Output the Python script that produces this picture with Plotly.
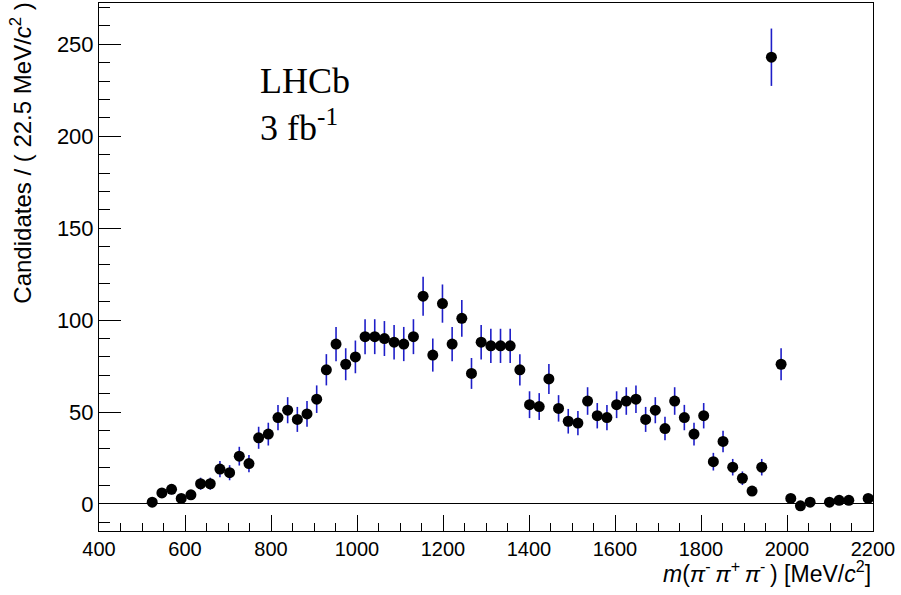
import plotly.graph_objects as go

mass = [523.75, 546.25, 568.75, 591.25, 613.75, 636.25, 658.75, 681.25, 703.75, 726.25,
        748.75, 771.25, 793.75, 816.25, 838.75, 861.25, 883.75, 906.25, 928.75, 951.25,
        973.75, 996.25, 1018.75, 1041.25, 1063.75, 1086.25, 1108.75, 1131.25, 1153.75, 1176.25,
        1198.75, 1221.25, 1243.75, 1266.25, 1288.75, 1311.25, 1333.75, 1356.25, 1378.75, 1401.25,
        1423.75, 1446.25, 1468.75, 1491.25, 1513.75, 1536.25, 1558.75, 1581.25, 1603.75, 1626.25,
        1648.75, 1671.25, 1693.75, 1716.25, 1738.75, 1761.25, 1783.75, 1806.25, 1828.75, 1851.25,
        1873.75, 1896.25, 1918.75, 1941.25, 1963.75, 1986.25, 2008.75, 2031.25, 2053.75, 2098.75,
        2121.25, 2143.75, 2188.75]

candidates = [1, 6, 8, 3, 5, 11, 11, 19, 17, 26,
              22, 36, 38, 47, 51, 46, 49, 57, 73, 87,
              76, 80, 91, 91, 90, 88, 87, 91, 113, 81,
              109, 87, 101, 71, 88, 86, 86, 86, 73, 54,
              53, 68, 52, 45, 44, 56, 48, 47, 54, 56,
              57, 46, 51, 41, 56, 47, 38, 48, 23, 34,
              20, 14, 7, 20, 243, 76, 3, -1, 1, 1,
              2, 2, 3]

errors = [1.0, 2.4, 2.8, 1.7, 2.2, 3.3, 3.3, 4.4, 4.1, 5.1,
          4.7, 6.0, 6.2, 6.9, 7.1, 6.8, 7.0, 7.5, 8.5, 9.3,
          8.7, 8.9, 9.5, 9.5, 9.5, 9.4, 9.3, 9.5, 10.6, 9.0,
          10.4, 9.3, 10.0, 8.4, 9.4, 9.3, 9.3, 9.3, 8.5, 7.3,
          7.3, 8.2, 7.2, 6.7, 6.6, 7.5, 6.9, 6.9, 7.3, 7.5,
          7.5, 6.8, 7.1, 6.4, 7.5, 6.9, 6.2, 6.9, 4.8, 5.8,
          4.5, 3.7, 2.6, 4.5, 15.6, 8.7, 1.7, 1.0, 1.0, 1.0,
          1.4, 1.4, 1.7]

x_tickvals = [400, 600, 800, 1000, 1200, 1400, 1600, 1800, 2000, 2200]
y_tickvals = [0, 50, 100, 150, 200, 250]

fig = go.Figure()
fig.add_trace(go.Scatter(
    x=mass, y=candidates, mode="markers",
    marker=dict(color="black", size=11),
    error_y=dict(type="data", array=errors, color="rgb(30,30,200)", thickness=1.6, width=0),
    showlegend=False, hoverinfo="skip",
))

sans = "Liberation Sans, Arial, sans-serif"
xtick_font = dict(family=sans, size=20, color="black")
ytick_font = dict(family=sans, size=22, color="black")

fig.update_layout(
    width=901, height=595,
    margin=dict(l=99, r=28, t=3, b=64, autoexpand=False),
    paper_bgcolor="white", plot_bgcolor="white",
    font=dict(family=sans, size=20, color="black"),
    xaxis=dict(
        range=[400, 2200], tickvals=x_tickvals, ticktext=[str(v) for v in x_tickvals],
        ticks="inside", ticklen=16, tickwidth=1, tickcolor="black",
        showline=True, linecolor="black", linewidth=1, mirror=True,
        showgrid=False, zeroline=False, tickfont=xtick_font, automargin=False,
        minor=dict(dtick=50, ticks="inside", ticklen=8, tickcolor="black", showgrid=False),
    ),
    yaxis=dict(
        range=[-14.7, 272.5], tickvals=y_tickvals, ticktext=[str(v) for v in y_tickvals],
        ticks="inside", ticklen=22, tickwidth=1, tickcolor="black",
        showline=True, linecolor="black", linewidth=1, mirror=True,
        showgrid=False, zeroline=True, zerolinecolor="black", zerolinewidth=1,
        tickfont=ytick_font, automargin=False,
        minor=dict(dtick=10, ticks="inside", ticklen=11, tickcolor="black", showgrid=False),
    ),
)

fig.add_annotation(
    text="Candidates / ( 22.5 MeV/<i>c</i><sup>2</sup> )",
    xref="paper", yref="paper", x=-0.101, y=1.006, xanchor="center", yanchor="top",
    textangle=-90, showarrow=False, font=dict(family=sans, size=24, color="black"),
)
fig.add_annotation(
    text="<i>m</i>(<i>π</i><sup>-</sup>\u2009<i>π</i><sup>+</sup>\u2009<i>π</i><sup>-</sup>\u2009) [MeV/<i>c</i><sup>2</sup>]",
    xref="paper", yref="paper", x=0.9995, y=(531 - 572) / 528, xanchor="right", yanchor="middle",
    showarrow=False, font=dict(family=sans, size=23, color="black"),
)
serif = dict(family="Liberation Serif, Times New Roman, serif", size=36, color="black")
fig.add_annotation(
    text="LHCb", xref="paper", yref="paper", x=0.2054, y=(531 - 81) / 528,
    xanchor="left", yanchor="middle", showarrow=False, font=serif,
)
fig.add_annotation(
    text="3 fb<sup>-1</sup>", xref="paper", yref="paper", x=0.2054, y=(531 - 126) / 528,
    xanchor="left", yanchor="middle", showarrow=False, font=serif,
)

fig.write_html("out.html", config={"displayModeBar": False},
               post_script="document.body.style.margin='0px';")
